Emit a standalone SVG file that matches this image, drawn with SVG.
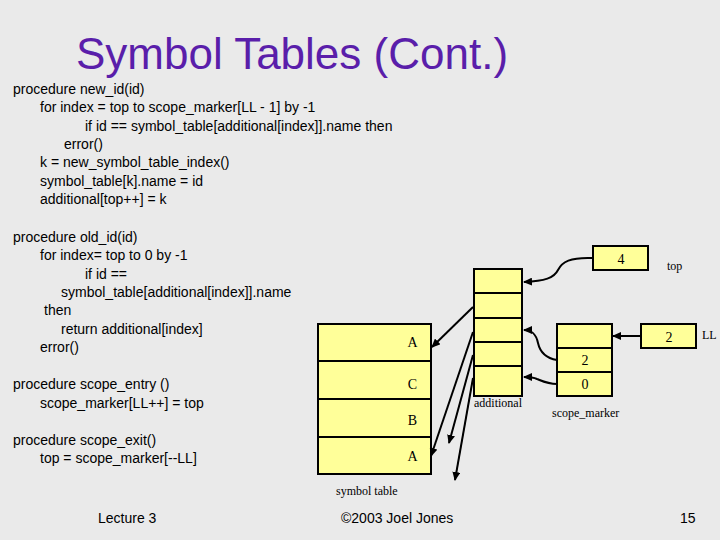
<svg xmlns="http://www.w3.org/2000/svg" width="720" height="540" viewBox="0 0 720 540">
<style>
.bg{fill:#eaeaea}
.code{font-family:"Liberation Sans",Arial,sans-serif;font-size:14px;fill:#000}
.title{font-family:"Liberation Sans",Arial,sans-serif;font-size:44px;fill:#5a1eaa}
.cell{fill:#ffff99;stroke:#000;stroke-width:2}
.lbl{font-family:"Liberation Serif","Times New Roman",serif;font-size:14px;fill:#000;text-anchor:middle}
.cap{font-family:"Liberation Serif","Times New Roman",serif;font-size:12px;fill:#000}
.conn{fill:none;stroke:#000;stroke-width:2;marker-end:url(#ah)}
.foot{font-family:"Liberation Sans",Arial,sans-serif;font-size:14px;fill:#000}
</style>
<defs>
<marker id="ah" markerWidth="9" markerHeight="8" refX="8" refY="4" orient="auto" markerUnits="userSpaceOnUse">
<path d="M0,0 L9,4 L0,8 Z" fill="#000"/>
</marker>
</defs>
<rect class="bg" x="0" y="0" width="720" height="540"/>
<g id="title">
<text class="title" x="76" y="69">Symbol Tables (Cont.)</text>
</g>
<g id="code">
<text class="code" x="13" y="93.5">procedure new_id(id)</text>
<text class="code" x="40" y="112">for index = top to scope_marker[LL - 1] by -1</text>
<text class="code" x="85" y="130.5">if id == symbol_table[additional[index]].name then</text>
<text class="code" x="64" y="149">error()</text>
<text class="code" x="40" y="167">k = new_symbol_table_index()</text>
<text class="code" x="40" y="185.5">symbol_table[k].name = id</text>
<text class="code" x="40" y="204">additional[top++] = k</text>
<text class="code" x="13" y="242">procedure old_id(id)</text>
<text class="code" x="40" y="260">for index= top to 0 by -1</text>
<text class="code" x="85" y="278.5">if id ==</text>
<text class="code" x="61" y="297">symbol_table[additional[index]].name</text>
<text class="code" x="44" y="315">then</text>
<text class="code" x="61" y="333.5">return additional[index]</text>
<text class="code" x="40" y="352">error()</text>
<text class="code" x="13" y="389">procedure scope_entry ()</text>
<text class="code" x="40" y="407.5">scope_marker[LL++] = top</text>
<text class="code" x="13" y="444.5">procedure scope_exit()</text>
<text class="code" x="40" y="463">top = scope_marker[--LL]</text>
</g>
<g id="symbol_table">
<rect class="cell" x="318" y="324" width="113" height="37"/>
<rect class="cell" x="318" y="361" width="113" height="38"/>
<rect class="cell" x="318" y="399" width="113" height="38"/>
<rect class="cell" x="318" y="437" width="113" height="37"/>
<text class="lbl" x="412.5" y="347">A</text>
<text class="lbl" x="412.5" y="389">C</text>
<text class="lbl" x="412.5" y="425">B</text>
<text class="lbl" x="412.5" y="461">A</text>
<text class="cap" x="336" y="494.5">symbol table</text>
</g>
<g id="additional">
<rect class="cell" x="474" y="269" width="48" height="24"/>
<rect class="cell" x="474" y="293" width="48" height="25"/>
<rect class="cell" x="474" y="318" width="48" height="24"/>
<rect class="cell" x="474" y="342" width="48" height="24"/>
<rect class="cell" x="474" y="366" width="48" height="30"/>
<text class="cap" x="474" y="407">additional</text>
</g>
<g id="scope_marker">
<rect class="cell" x="557" y="324" width="55" height="24"/>
<rect class="cell" x="557" y="348" width="55" height="24"/>
<rect class="cell" x="557" y="372" width="55" height="24"/>
<text class="lbl" x="585" y="365">2</text>
<text class="lbl" x="585" y="389">0</text>
<text class="cap" x="552" y="417">scope_marker</text>
</g>
<g id="top">
<rect class="cell" x="593" y="246" width="55" height="24"/>
<text class="lbl" x="621" y="264">4</text>
<text class="cap" x="667" y="270">top</text>
</g>
<g id="LL">
<rect class="cell" x="641" y="324" width="55" height="24"/>
<text class="lbl" x="669" y="342">2</text>
<text class="cap" x="702" y="339">LL</text>
</g>
<g id="connectors">
<path class="conn" d="M593,258 C570,257 562,262 558,270 C554,278 545,281 524,282"/>
<path class="conn" d="M557,360 C545,358 540,352 538,343 C536,334 532,330 524,330"/>
<path class="conn" d="M557,384 C548,384 542,381 537,379 C533,377 529,377 524,377"/>
<path class="conn" d="M641,336 L613,336"/>
<path class="conn" d="M473,307 L432,347"/>
<path class="conn" d="M473,332 L431,456"/>
<path class="conn" d="M473,355 L449,443"/>
<path class="conn" d="M473,378 L455,480"/>
</g>
<g id="footer">
<text class="foot" x="98" y="523">Lecture 3</text>
<text class="foot" x="341" y="523">©2003 Joel Jones</text>
<text class="foot" x="680" y="523">15</text>
</g>
</svg>
